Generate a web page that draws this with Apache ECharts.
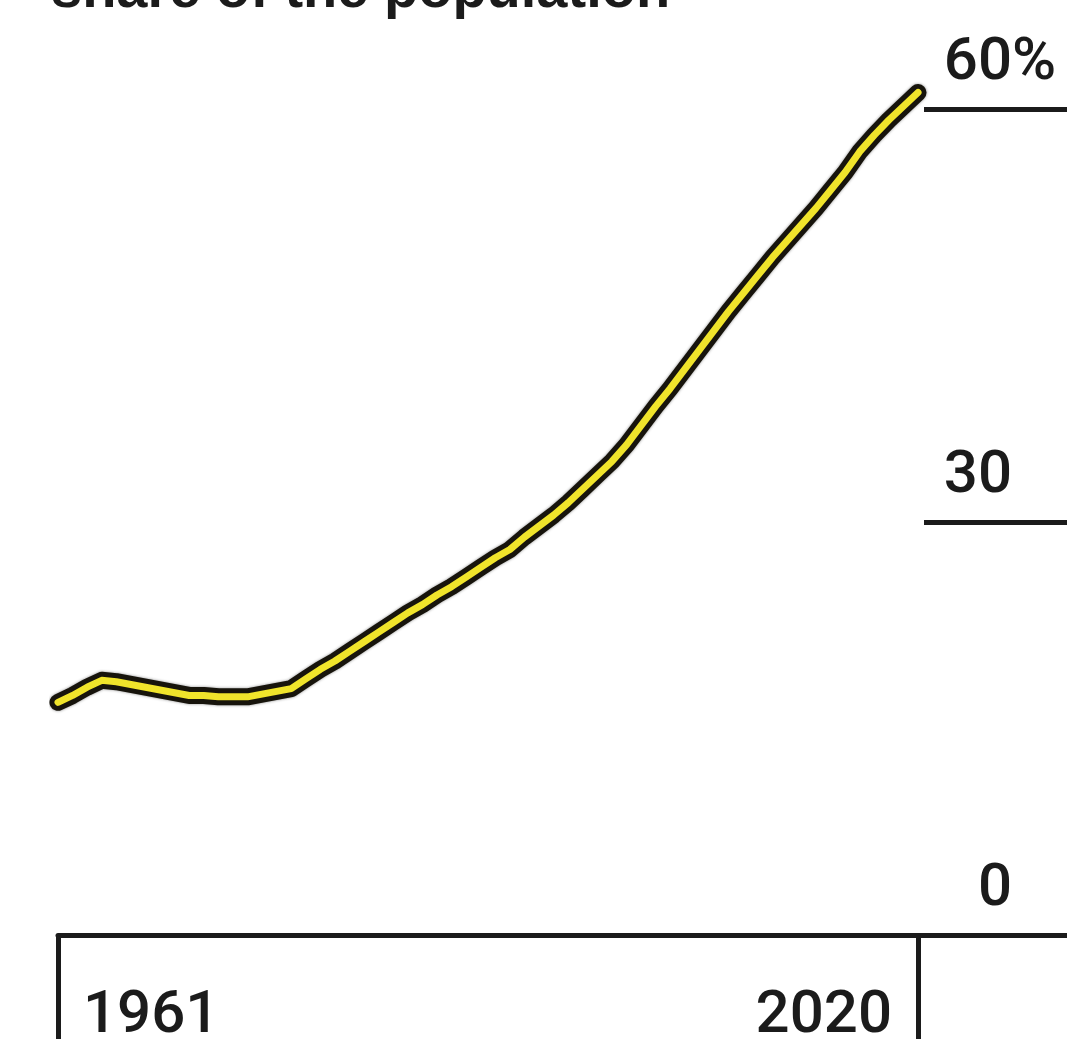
<!DOCTYPE html>
<html>
<head>
<meta charset="utf-8">
<script src="https://cdn.jsdelivr.net/npm/echarts@6/dist/echarts.min.js"></script>
<style>
  html, body { margin: 0; padding: 0; background: #ffffff; }
  #chart { width: 1067px; height: 1039px; }
</style>
</head>
<body>
<div id="chart"></div>
<script>
// Share of the population, 1961-2020 (percent)
const years = [
  1961, 1962, 1963, 1964, 1965, 1966, 1967, 1968, 1969, 1970,
  1971, 1972, 1973, 1974, 1975, 1976, 1977, 1978, 1979, 1980,
  1981, 1982, 1983, 1984, 1985, 1986, 1987, 1988, 1989, 1990,
  1991, 1992, 1993, 1994, 1995, 1996, 1997, 1998, 1999, 2000,
  2001, 2002, 2003, 2004, 2005, 2006, 2007, 2008, 2009, 2010,
  2011, 2012, 2013, 2014, 2015, 2016, 2017, 2018, 2019, 2020
];
const share = [
  16.9, 17.4, 18.0, 18.5, 18.4, 18.2, 18.0, 17.8, 17.6, 17.4,
  17.4, 17.3, 17.3, 17.3, 17.5, 17.7, 17.9, 18.6, 19.3, 19.9,
  20.6, 21.3, 22.0, 22.7, 23.4, 24.0, 24.7, 25.3, 26.0, 26.7,
  27.4, 28.0, 28.9, 29.7, 30.5, 31.4, 32.4, 33.4, 34.4, 35.6,
  37.0, 38.4, 39.7, 41.1, 42.5, 43.9, 45.3, 46.6, 47.9, 49.2,
  50.4, 51.6, 52.8, 54.1, 55.4, 56.9, 58.1, 59.2, 60.2, 61.2
];
const yearTicks = [1961, 2020];
const yTicks = [0, 30, 60];
const titleText = 'share of the population';

const INK = '#1b1b1b';
const TITLE_FONT = 'Liberation Sans, Arial, sans-serif';
const FONT = 'Roboto, Liberation Sans, Arial, sans-serif';
const points = years.map((y, i) => [y, share[i]]);

// x range runs past the last year so the baseline reaches the right edge
const xMin = years[0];
const xMax = 2030.22;

const chart = echarts.init(document.getElementById('chart'), null, { renderer: 'canvas' });

const labelText = { fontFamily: FONT, fontSize: 60, fontWeight: 500, lineHeight: 60, color: INK };

chart.setOption({
  animation: false,
  backgroundColor: '#ffffff',
  title: {
    text: titleText,
    left: 51,
    top: -36,
    padding: 0,
    textStyle: { fontFamily: TITLE_FONT, fontSize: 56, fontWeight: 'bold', color: INK, lineHeight: 55 }
  },
  grid: { left: 58, right: 0, top: 109, bottom: 104, containLabel: false, outerBoundsMode: 'none' },
  xAxis: [
    {
      type: 'value', min: xMin, max: xMax, position: 'bottom',
      splitLine: { show: false },
      axisLine: { show: true, lineStyle: { color: INK, width: 5 } },
      axisTick: { show: true, customValues: yearTicks, length: 110, lineStyle: { color: INK, width: 5 } },
      axisLabel: Object.assign({
        customValues: [yearTicks[0]], align: 'left', margin: 52,
        padding: [0, 0, 0, 25],
        formatter: v => String(v)
      }, labelText)
    },
    {
      type: 'value', min: xMin, max: xMax, position: 'bottom',
      splitLine: { show: false },
      axisLine: { show: false },
      axisTick: { show: false, customValues: [yearTicks[1]] },
      axisLabel: Object.assign({
        customValues: [yearTicks[1]], align: 'right', margin: 52,
        padding: [0, 26, 0, 0],
        formatter: v => String(v)
      }, labelText)
    }
  ],
  yAxis: {
    type: 'value', position: 'right', min: yTicks[0], max: yTicks[2], interval: 30,
    splitLine: { show: false },
    axisLine: { show: false },
    axisTick: { show: true, inside: true, length: 143, lineStyle: { color: INK, width: 5 } },
    axisLabel: {
      inside: true, margin: 2, verticalAlign: 'bottom',
      padding: [0, 0, 15, 0],
      // numbers share one right edge; the unit hangs past it on the top label
      formatter: v => v === yTicks[2] ? '{n|' + v + '}{p|%}' : '{n|' + v + '}{g|}',
      rich: {
        n: Object.assign({ align: 'left' }, labelText),
        p: Object.assign({ width: 53, align: 'left' }, labelText),
        g: { width: 53, align: 'left', lineHeight: 60 }
      }
    }
  },
  series: [
    {
      type: 'line', data: points, symbol: 'none', silent: true, z: 3, clip: false,
      lineStyle: { color: '#17140c', width: 17, cap: 'round', join: 'round',
                   shadowBlur: 3, shadowColor: 'rgba(0,0,0,0.45)' }
    },
    {
      type: 'line', data: points, symbol: 'none', silent: true, z: 4, clip: false,
      lineStyle: { color: '#f0e42b', width: 7, cap: 'round', join: 'round' }
    }
  ]
});
</script>
</body>
</html>
